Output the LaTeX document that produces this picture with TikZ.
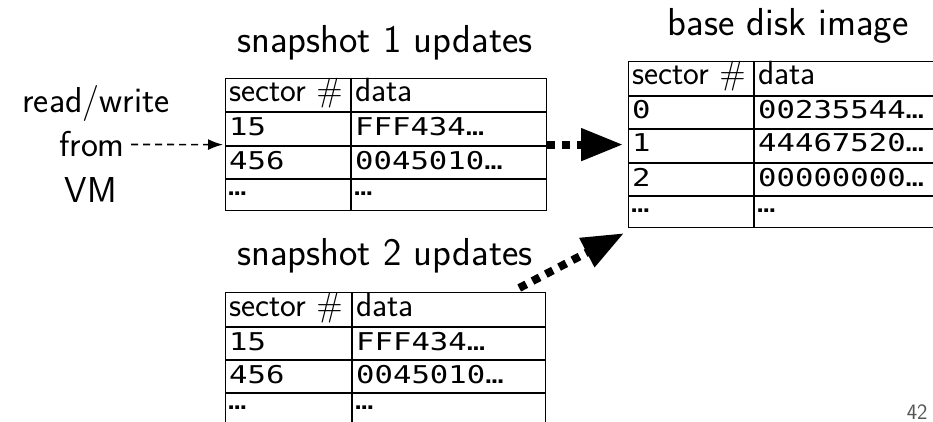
\documentclass[tikz,border=0pt]{standalone}
\usepackage{fontspec}
\setmonofont{DejaVu Sans Mono}[FakeStretch=1.25]
\usepackage{xcolor}
\usetikzlibrary{arrows.meta}
\definecolor{PageGray}{HTML}{555555}

\tikzset{
  titletext/.style={anchor=base, font=\sffamily\fontsize{39}{44}\selectfont},
  sidetext/.style={font=\sffamily\fontsize{36}{40}\selectfont},
  celltext/.style={anchor=base west, inner sep=0pt, font=\sffamily\fontsize{33.5}{40}\selectfont},
  hexcell/.style={anchor=base west, inner sep=0pt, font=\ttfamily\fontsize{24.5}{28}\selectfont},
  tablebox/.style={draw, line width=1.2pt, inner sep=0pt, anchor=north west},
  gridline/.style={line width=1.2pt},
  vmarrow/.style={line width=1.6pt, dash pattern=on 7pt off 5pt, -{Latex[length=15pt,width=11pt]}},
  bigarrow/.style={line width=8pt, dash pattern=on 8pt off 7pt, -{Triangle[length=42pt,width=31pt]}}
}

\begin{document}
\begin{tikzpicture}[x=1pt, y=-1pt]
    \useasboundingbox (0,0) rectangle (933,422);
    \clip (0,0) rectangle (933,422);

    % Snapshot 1 table
    \node[titletext] (titleA) at (385,53) {snapshot 1 updates};
    \node[tablebox, minimum width=321pt, minimum height=132pt] (snapA) at (225,78) {};
    \draw[gridline] (351,78) -- (351,210);
    \foreach \y in {112,146,179}
        \draw[gridline] (225,\y) -- (546,\y);
    \node[celltext] (a-h1) at (229,102) {sector $\#$};
    \node[celltext] (a-h2) at (355,102) {data};
    \node[hexcell] (a-k1) at (229,136) {15};
    \node[hexcell] (a-d1) at (355,136) {FFF434…};
    \node[hexcell] (a-k2) at (229,169) {456};
    \node[hexcell] (a-d2) at (355,169) {0045010…};
    \node[hexcell] (a-k3) at (228,195) {…};
    \node[hexcell] (a-d3) at (354,195) {…};

    % Snapshot 2 table, runs off the bottom
    \node[titletext] (titleB) at (385,265) {snapshot 2 updates};
    \node[tablebox, minimum width=320pt, minimum height=160pt] (snapB) at (225,292) {};
    \draw[gridline] (352,292) -- (352,452);
    \foreach \y in {327,360,393}
        \draw[gridline] (225,\y) -- (545,\y);
    \node[celltext] (b-h1) at (229,316) {sector $\#$};
    \node[celltext] (b-h2) at (356,316) {data};
    \node[hexcell] (b-k1) at (229,350) {15};
    \node[hexcell] (b-d1) at (356,350) {FFF434…};
    \node[hexcell] (b-k2) at (229,383) {456};
    \node[hexcell] (b-d2) at (356,383) {0045010…};
    \node[hexcell] (b-k3) at (228,409) {…};
    \node[hexcell] (b-d3) at (355,409) {…};

    % Base disk image table, runs off the right edge
    \node[titletext] (titleC) at (788,36) {base disk image};
    \node[tablebox, minimum width=320pt, minimum height=166pt] (base) at (628,61) {};
    \draw[gridline] (754,61) -- (754,227);
    \foreach \y in {96,129,163,196}
        \draw[gridline] (628,\y) -- (948,\y);
    \node[celltext] (c-h1) at (632,85) {sector $\#$};
    \node[celltext] (c-h2) at (758,85) {data};
    \node[hexcell] (c-k1) at (632,119) {0};
    \node[hexcell] (c-d1) at (758,119) {00235544…};
    \node[hexcell] (c-k2) at (632,152) {1};
    \node[hexcell] (c-d2) at (758,152) {44467520…};
    \node[hexcell] (c-k3) at (632,186) {2};
    \node[hexcell] (c-d3) at (758,186) {00000000…};
    \node[hexcell] (c-k4) at (631,212) {…};
    \node[hexcell] (c-d4) at (757,212) {…};

    % VM side
    \node[sidetext, anchor=base] (rw) at (96,113) {read/write};
    \node[sidetext, anchor=base east, inner sep=0pt] (from) at (125,157) {from};
    \node[sidetext, anchor=base] (vm) at (91,202) {VM};

    % Arrows
    \draw[vmarrow] ([xshift=6pt]from.east) -- ([xshift=-2pt]snapA.west);
    \draw[bigarrow] (snapA.east) -- ([xshift=-5pt]base.west);
    \draw[bigarrow] ([xshift=-27pt,yshift=4pt]snapB.north east) -- ([xshift=-4pt,yshift=-5pt]base.south west);

    \node[anchor=base east, text=PageGray, font=\sffamily\fontsize{22}{24}\selectfont] (page) at (931,419) {42};
\end{tikzpicture}
\end{document}
